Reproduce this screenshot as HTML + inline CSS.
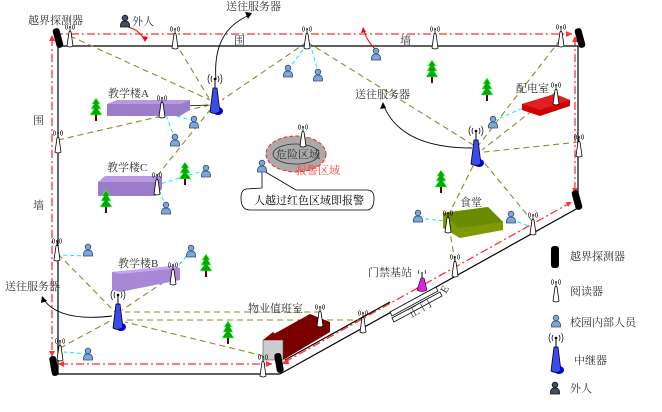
<!DOCTYPE html>
<html><head><meta charset="utf-8"><style>
html,body{margin:0;padding:0;background:#fff}
svg{display:block}
text{font-family:"Liberation Serif","Noto Serif CJK SC","Noto Sans CJK SC",serif;font-size:11px;fill:#333}
</style></head><body>
<svg width="662" height="412" viewBox="0 0 662 412" xmlns="http://www.w3.org/2000/svg">
<defs>
<g id="rd"><path d="M-1,-10 Q0,-11 1,-10 L3,4 Q0,6 -3,4 Z" fill="#fff" stroke="#000" stroke-width="0.8"/><line x1="0" y1="-10" x2="0" y2="-15" stroke="#000" stroke-width="0.8"/><circle cx="0" cy="-15" r="0.9"/><path d="M-2,-17 Q-3.5,-15 -2,-13 M2,-17 Q3.5,-15 2,-13 M-3.5,-18 Q-5.5,-15 -3.5,-12 M3.5,-18 Q5.5,-15 3.5,-12" fill="none" stroke="#000" stroke-width="0.6"/></g>
<g id="ps"><circle cx="0" cy="-4" r="2.8" fill="#7fa7d6" stroke="#2a4a7a" stroke-width="0.8"/><path d="M-4.5,5 Q-5,-1 0,-1 Q5,-1 4.5,5 Z" fill="#7fa7d6" stroke="#2a4a7a" stroke-width="0.8"/></g>
<g id="out"><circle cx="0" cy="-4" r="2.8" fill="#3d4f62" stroke="#111" stroke-width="0.8"/><path d="M-4.5,5 Q-5,-1 0,-1 Q5,-1 4.5,5 Z" fill="#3d4f62" stroke="#111" stroke-width="0.8"/></g>
<g id="rp"><ellipse cx="3" cy="11" rx="5" ry="4" fill="#00f"/><path d="M-2,-12 L2,-12 L5,12 Q0,15 -5,12 Z" fill="#3a4cf0" stroke="#000" stroke-width="0.8"/><line x1="0" y1="-12" x2="0" y2="-21" stroke="#000"/><circle cx="0" cy="-21" r="1.3"/><path d="M-3,-24 Q-5,-21 -3,-18 M3,-24 Q5,-21 3,-18 M-5.5,-26 Q-8.5,-21 -5.5,-16 M5.5,-26 Q8.5,-21 5.5,-16" fill="none" stroke="#000" stroke-width="0.7"/></g>
<g id="tr"><path d="M0,-12 L4,-6 L2,-6 L5,-1 L2,-1 L6,5 L-6,5 L-2,-1 L-5,-1 L-2,-6 L-4,-6 Z" fill="#0a0" stroke="#6f6" stroke-width="0.6"/><rect x="-1" y="5" width="2" height="6" fill="#600"/></g>
<g id="dt"><rect x="-3.5" y="-10" width="7" height="20" rx="3" fill="#000"/></g>
</defs>

<g stroke="#f33" stroke-width="1.3" fill="none" stroke-dasharray="8,3,2,3">
<line x1="55" y1="34" x2="572" y2="34"/><line x1="52" y1="38" x2="52" y2="356"/>
<line x1="60" y1="364" x2="272" y2="364"/><line x1="575" y1="38" x2="575" y2="194"/>
<line x1="285" y1="362" x2="570" y2="203"/>
</g>
<g stroke="#000" stroke-width="1.2" fill="none">
<line x1="58" y1="46" x2="578" y2="46"/><line x1="58" y1="46" x2="58" y2="374"/>
<line x1="58" y1="374" x2="280" y2="374"/><line x1="280" y1="374" x2="578" y2="208"/>
<line x1="578" y1="46" x2="578" y2="200"/>
<line x1="285" y1="360" x2="390" y2="302"/>
</g>
<g fill="#fff" stroke="#000" stroke-width="0.8">
<polygon points="390,312 436,287 438,291 392,316"/><polygon points="392,318 440,292 442,296 394,322"/>
</g>
<text x="411" y="318" transform="rotate(-30 411 318)" font-size="10">正 门</text>
<text x="446" y="294" transform="rotate(-60 446 294)" font-size="10">E</text>

<g stroke="#8b8b2b" stroke-width="1.1" stroke-dasharray="6,4" fill="none">
<line x1="70" y1="36" x2="210" y2="100"/><line x1="175" y1="42" x2="210" y2="100"/>
<line x1="307" y1="42" x2="222" y2="100"/><line x1="58" y1="140" x2="210" y2="105"/>
<line x1="157" y1="176" x2="210" y2="110"/><line x1="307" y1="42" x2="475" y2="146"/>
<line x1="560" y1="40" x2="478" y2="146"/><line x1="556" y1="92" x2="482" y2="150"/>
<line x1="579" y1="142" x2="484" y2="152"/><line x1="448" y1="216" x2="476" y2="160"/>
<line x1="533" y1="222" x2="482" y2="160"/><line x1="455" y1="262" x2="450" y2="232"/>
<line x1="58" y1="254" x2="115" y2="312"/><line x1="60" y1="348" x2="112" y2="320"/>
<line x1="173" y1="276" x2="122" y2="310"/><line x1="264" y1="356" x2="125" y2="322"/>
<line x1="320" y1="312" x2="125" y2="312"/><line x1="363" y1="320" x2="125" y2="320"/>
</g>
<line x1="163" y1="107" x2="208" y2="105" stroke="#000" stroke-width="0.8"/>
<g stroke="#0ee" stroke-width="1" stroke-dasharray="4,3" fill="none">
<line x1="288" y1="70" x2="307" y2="44"/><line x1="319" y1="74" x2="310" y2="44"/>
<line x1="194" y1="121" x2="166" y2="113"/><line x1="175" y1="139" x2="166" y2="115"/>
<line x1="206" y1="170" x2="160" y2="184"/><line x1="166" y1="207" x2="160" y2="192"/>
<line x1="88" y1="256" x2="62" y2="255"/><line x1="191" y1="251" x2="176" y2="268"/>
<line x1="88" y1="354" x2="64" y2="352"/><line x1="493" y1="121" x2="555" y2="94"/>
<line x1="418" y1="218" x2="444" y2="221"/><line x1="511" y1="219" x2="528" y2="226"/>
</g>

<polygon points="107,104 180,104 190,100 190,110 180,116 107,116" fill="#9b7cc9"/><polygon points="107,104 180,104 190,100 117,100" fill="#b79ae0"/>
<text x="108" y="97" font-size="12">教学楼A</text>
<polygon points="98,182 155,182 162,176 162,189 155,196 98,196" fill="#9b7cc9"/><polygon points="98,182 155,182 162,176 105,176" fill="#b79ae0"/>
<text x="107" y="171" font-size="12">教学楼C</text>
<polygon points="112,272 172,266 180,268 180,280 120,292 112,290" fill="#a887d6"/><polygon points="112,272 172,266 180,268 120,274" fill="#c5a8ee"/>
<text x="118" y="267" font-size="12">教学楼B</text>
<polygon points="522,104 555,94 570,100 570,106 540,116 522,110" fill="#d40000"/><polygon points="522,104 555,94 570,100 540,110" fill="#e02020"/>
<text x="516" y="92" font-size="12">配电室</text>
<polygon points="443,213 488,207 503,222 503,230 460,238 443,228" fill="#7f9900"/><polygon points="443,213 488,207 503,222 458,228" fill="#6a8a00"/>
<text x="460" y="206" font-size="12">食堂</text>
<polygon points="263,340 310,314 330,322 330,332 283,360 263,360" fill="#7a0000"/><rect x="263" y="340" width="20" height="20" fill="#ccc" stroke="#555" stroke-width="0.6"/><polygon points="263,340 273,332 283,340" fill="#800"/>
<text x="248" y="312" font-size="12">物业值班室</text>

<ellipse cx="296" cy="154" rx="30" ry="18" fill="#aaa" stroke="#f22" stroke-width="1" stroke-dasharray="4,2"/>
<ellipse cx="296" cy="154" rx="23" ry="10" fill="none" stroke="#333" stroke-width="0.8"/>
<text x="276" y="158" font-size="12">危险区域</text>
<text x="296" y="174" font-size="12" style="fill:#f44">报警区域</text>
<path d="M262,170 L262,188 L246,189 Q241,190 241,198 Q241,210 250,210 L367,210 Q374,210 374,198 Q374,190 367,190 L296,190 Z" fill="#fff" stroke="#000" stroke-width="0.8"/>
<text x="254" y="204" font-size="10" style="fill:#000">人越过红色区域即报警</text>

<g fill="none" stroke="#000" stroke-width="0.9">
<path d="M216,80 Q212,30 250,15"/><path d="M472,148 Q400,148 383,104"/><path d="M112,316 Q60,322 44,300"/>
</g>
<polygon points="252,13 245,12 248,19"/><polygon points="383,102 380,109 386,108"/><polygon points="42,296 41,303 47,301"/>
<text x="226" y="10" font-size="12">送往服务器</text>
<text x="355" y="98" font-size="12">送往服务器</text>
<text x="5" y="290" font-size="12">送往服务器</text>

<path d="M128,27 Q140,30 145,41" fill="none" stroke="#f00"/><polygon points="145,42 142,36 148,37" fill="#f00"/>
<path d="M376,50 Q366,40 364,30" fill="none" stroke="#f00"/><polygon points="363,27 361,33 366,32" fill="#f00"/>
<g fill="#f33"><polygon points="52,35 49,41 55,41"/><polygon points="572,34 566,31 566,37"/><polygon points="575,36 572,42 578,42"/><polygon points="575,194 572,188 578,188"/><polygon points="52,357 49,351 55,351"/><polygon points="58,364 64,361 64,367"/><polygon points="272,364 266,361 266,367"/><polygon points="281,364 288,358 289,364"/><polygon points="572,202 566,202 568,207"/></g>

<text x="234" y="44" font-size="12">围</text><text x="400" y="44" font-size="12">墙</text>
<text x="33" y="124" font-size="12">围</text><text x="33" y="209" font-size="12">墙</text>
<text x="28" y="24" font-size="12">越界探测器</text>
<use href="#out" x="125" y="22"/><text x="132" y="25" font-size="12">外人</text>
<text x="368" y="276" font-size="12">门禁基站</text>

<use href="#dt" transform="translate(58,38) rotate(-15)"/><use href="#dt" transform="translate(580,38) rotate(-15)"/>
<use href="#dt" transform="translate(577,200) rotate(-15)"/><use href="#dt" transform="translate(54,366) rotate(-10)"/>
<use href="#dt" transform="translate(279,363) rotate(-10)"/>

<use href="#rd" x="70" y="42"/><use href="#rd" x="175" y="44"/><use href="#rd" x="307" y="44"/><use href="#rd" x="435" y="44"/><use href="#rd" x="561" y="42"/>
<use href="#rd" x="58" y="148"/><use href="#rd" x="57" y="256"/><use href="#rd" x="60" y="356"/>
<use href="#rd" x="162" y="113"/><use href="#rd" x="157" y="190"/><use href="#rd" x="173" y="280"/>
<use href="#rd" x="263" y="372"/><use href="#rd" x="320" y="322"/><use href="#rd" x="363" y="328"/>
<use href="#rd" x="455" y="272"/><use href="#rd" x="448" y="228"/><use href="#rd" x="533" y="230"/>
<use href="#rd" x="556" y="100"/><use href="#rd" x="579" y="152"/><use href="#rd" x="303" y="142"/>
<g><path d="M421,278 L424,278 L427,290 Q422,293 417,290 Z" fill="#e020e0" stroke="#000" stroke-width="0.6"/><line x1="422" y1="278" x2="422" y2="272" stroke="#000"/><path d="M419,270 Q418,272 419,274 M425,270 Q426,272 425,274" stroke="#000" fill="none" stroke-width="0.6"/></g>

<use href="#rp" x="215" y="100"/><use href="#rp" x="476" y="152"/><use href="#rp" x="118" y="316"/>

<use href="#ps" x="288" y="72"/><use href="#ps" x="318" y="76"/><use href="#ps" x="376" y="55"/><use href="#ps" x="194" y="123"/><use href="#ps" x="175" y="141"/>
<use href="#ps" x="206" y="172"/><use href="#ps" x="166" y="209"/><use href="#ps" x="262" y="167"/><use href="#ps" x="88" y="251"/><use href="#ps" x="191" y="252"/>
<use href="#ps" x="88" y="355"/><use href="#ps" x="493" y="123"/><use href="#ps" x="418" y="217"/><use href="#ps" x="511" y="218"/>

<use href="#tr" x="96" y="110"/><use href="#tr" x="106" y="202"/><use href="#tr" x="185" y="174"/><use href="#tr" x="206" y="266"/>
<use href="#tr" x="228" y="333"/><use href="#tr" x="432" y="72"/><use href="#tr" x="487" y="90"/><use href="#tr" x="441" y="182"/>

<rect x="551" y="246" width="8" height="22" rx="3" fill="#000"/><text x="570" y="260" font-size="12">越界探测器</text>
<use href="#rd" x="556" y="297"/><text x="570" y="295" font-size="12">阅读器</text>
<use href="#ps" x="556" y="322"/><text x="570" y="326" font-size="12">校园内部人员</text>
<use href="#rp" x="556" y="359"/><text x="574" y="364" font-size="12">中继器</text>
<use href="#out" x="555" y="389"/><text x="570" y="392" font-size="12">外人</text>
</svg>
</body></html>
